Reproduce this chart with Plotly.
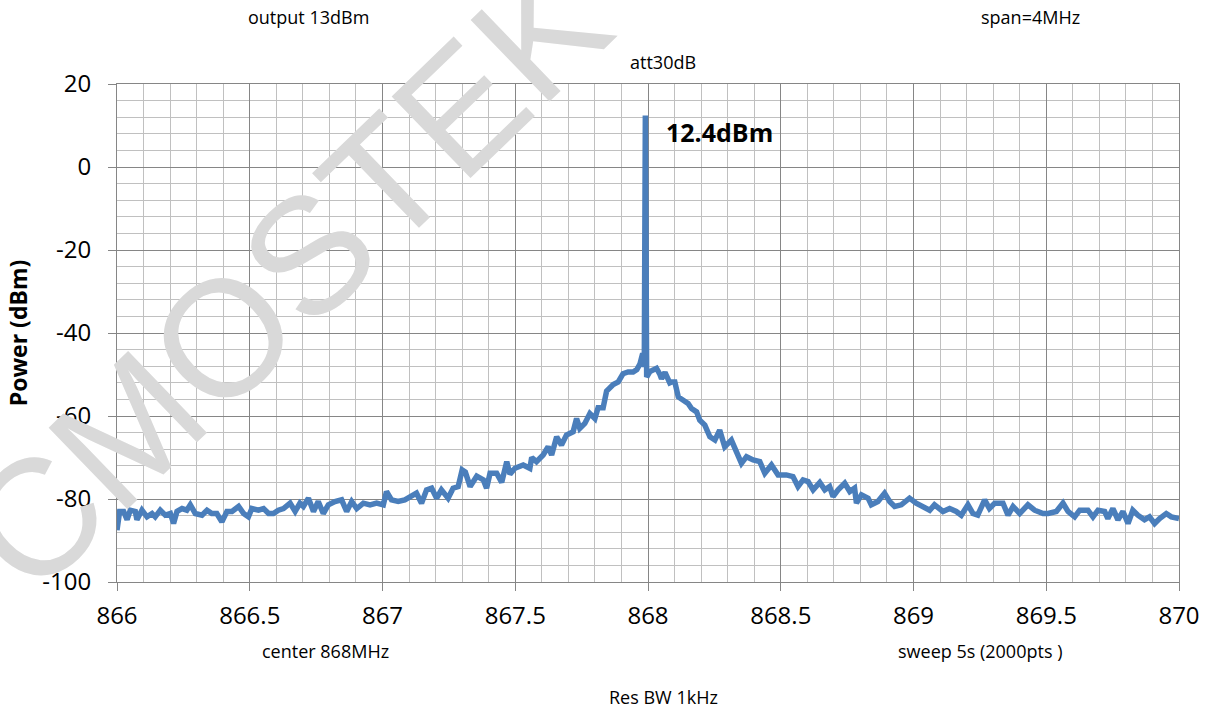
import plotly.graph_objects as go

# ---- data ----
freq_mhz = [
    866.000, 866.010, 866.025, 866.038, 866.050, 866.069, 866.075, 866.094, 866.113, 866.132,
    866.144, 866.163, 866.182, 866.201, 866.213, 866.226, 866.245, 866.263, 866.276, 866.295,
    866.320, 866.339, 866.357, 866.376, 866.395, 866.414, 866.433, 866.458, 866.477, 866.495,
    866.508, 866.533, 866.552, 866.571, 866.589, 866.608, 866.627, 866.640, 866.652, 866.671,
    866.689, 866.702, 866.721, 866.740, 866.758, 866.777, 866.796, 866.821, 866.846, 866.865,
    866.884, 866.903, 866.928, 866.953, 866.978, 867.003, 867.015, 867.034, 867.059, 867.084,
    867.110, 867.128, 867.147, 867.166, 867.185, 867.204, 867.222, 867.247, 867.266, 867.285,
    867.300, 867.312, 867.330, 867.355, 867.380, 867.392, 867.405, 867.430, 867.449, 867.468,
    867.480, 867.499, 867.530, 867.555, 867.562, 867.580, 867.605, 867.624, 867.637, 867.656,
    867.674, 867.693, 867.718, 867.731, 867.743, 867.762, 867.781, 867.800, 867.812, 867.831,
    867.844, 867.869, 867.888, 867.906, 867.925, 867.944, 867.958, 867.970, 867.980, 867.986,
    867.990, 867.995, 868.007, 868.020, 868.032, 868.045, 868.051, 868.064, 868.070, 868.082,
    868.089, 868.101, 868.114, 868.133, 868.151, 868.164, 868.183, 868.195, 868.214, 868.233,
    868.252, 868.270, 868.289, 868.314, 868.333, 868.352, 868.371, 868.396, 868.421, 868.440,
    868.465, 868.490, 868.521, 868.546, 868.565, 868.584, 868.603, 868.622, 868.647, 868.666,
    868.684, 868.697, 868.716, 868.741, 868.760, 868.778, 868.785, 868.804, 868.829, 868.841,
    868.866, 868.891, 868.910, 868.929, 868.954, 868.985, 869.010, 869.036, 869.061, 869.079,
    869.111, 869.136, 869.161, 869.180, 869.205, 869.224, 869.242, 869.268, 869.286, 869.306,
    869.337, 869.356, 869.375, 869.400, 869.431, 869.456, 869.488, 869.507, 869.538, 869.563,
    869.582, 869.607, 869.626, 869.657, 869.676, 869.695, 869.720, 869.732, 869.751, 869.770,
    869.789, 869.808, 869.826, 869.845, 869.870, 869.889, 869.908, 869.927, 869.952, 869.971,
    869.990, 870.000,
]
power_dbm = [
    -87.5, -83.0, -83.0, -85.0, -82.7, -83.0, -85.0, -82.7, -84.3, -83.5,
    -84.3, -82.7, -83.9, -83.5, -85.9, -83.0, -82.3, -82.7, -81.4, -83.5,
    -83.9, -82.7, -83.5, -83.5, -85.5, -83.0, -83.0, -81.8, -83.5, -84.3,
    -82.3, -82.7, -82.3, -83.5, -83.5, -82.7, -82.3, -81.5, -81.0, -83.0,
    -81.0, -81.8, -79.8, -83.0, -80.6, -83.5, -81.4, -80.6, -80.2, -83.0,
    -80.6, -82.3, -81.0, -81.4, -81.0, -81.4, -78.2, -80.2, -80.6, -80.2,
    -79.4, -78.6, -81.0, -77.8, -77.4, -79.8, -77.8, -79.8, -77.4, -77.0,
    -73.0, -73.5, -77.0, -74.5, -75.4, -77.4, -73.8, -73.8, -76.0, -71.0,
    -74.0, -72.6, -71.8, -72.6, -70.0, -71.0, -69.4, -67.4, -69.4, -65.0,
    -67.0, -64.6, -63.8, -60.6, -63.0, -61.8, -59.4, -60.6, -58.0, -58.0,
    -54.0, -52.4, -51.8, -49.8, -49.4, -49.4, -48.8, -47.4, -44.9, -48.2,
    12.4, -50.6, -49.3, -49.0, -48.5, -50.0, -51.0, -49.5, -50.6, -52.0,
    -51.8, -51.8, -55.4, -56.2, -57.0, -58.2, -59.0, -61.0, -62.2, -65.0,
    -65.8, -63.4, -67.4, -65.8, -69.0, -71.4, -69.8, -70.6, -71.0, -73.8,
    -71.8, -74.2, -74.2, -74.6, -77.0, -75.4, -75.8, -77.8, -76.0, -77.8,
    -77.0, -79.4, -77.8, -76.2, -78.2, -77.4, -81.0, -79.0, -79.8, -81.4,
    -80.6, -78.6, -80.6, -81.8, -81.4, -79.8, -81.0, -81.8, -82.7, -81.4,
    -83.0, -82.3, -83.0, -83.9, -81.4, -83.5, -83.9, -80.2, -82.3, -81.0,
    -81.0, -83.9, -81.8, -83.5, -81.4, -82.7, -83.5, -83.5, -83.0, -81.0,
    -83.0, -84.3, -82.7, -82.7, -84.3, -82.7, -83.0, -84.7, -82.3, -85.0,
    -83.0, -85.9, -82.7, -83.9, -85.0, -84.3, -85.9, -84.7, -83.5, -84.3,
    -84.7, -84.7,
]
x_tick_vals = [866, 866.5, 867, 867.5, 868, 868.5, 869, 869.5, 870]
x_tick_text = ["866", "866.5", "867", "867.5", "868", "868.5", "869", "869.5", "870"]
y_tick_vals = [-100, -80, -60, -40, -20, 0, 20]
y_tick_text = ["-100", "-80", "-60", "-40", "-20", "0", "20"]
peak_label = "12.4dBm"

W, H = 1211, 709
ML, MR, MT, MB = 117, 32, 84, 127
PW, PH = W - ML - MR, H - MT - MB
FONT = "Open Sans"


def px(xp):
    return (xp - ML) / PW


def py(yp):
    return (H - MB - yp) / PH


fig = go.Figure()
fig.add_trace(go.Scatter(
    x=freq_mhz, y=power_dbm, mode="lines",
    line=dict(color="#4A7EBB", width=5.5),
    showlegend=False, hoverinfo="x+y",
))

major = "#868686"
minor = "#C0C0C0"

fig.update_layout(
    width=W, height=H,
    margin=dict(l=ML, r=MR, t=MT, b=MB, pad=0),
    paper_bgcolor="white", plot_bgcolor="white",
    font=dict(family=FONT, color="black"),
    xaxis=dict(
        range=[866, 870], tickvals=x_tick_vals, ticktext=x_tick_text,
        showgrid=True, gridcolor=major, gridwidth=1,
        minor=dict(dtick=0.1, tick0=866, showgrid=True, gridcolor=minor, gridwidth=1, ticks=""),
        ticks="outside", ticklen=8, tickcolor=major, tickwidth=1,
        ticklabelstandoff=4,
        tickfont=dict(size=24, family=FONT, color="black"),
        showline=True, linecolor=major, linewidth=1, mirror=True,
        zeroline=False, fixedrange=True,
    ),
    yaxis=dict(
        range=[-100, 20], tickvals=y_tick_vals, ticktext=y_tick_text,
        showgrid=True, gridcolor=major, gridwidth=1,
        minor=dict(dtick=4, tick0=-100, showgrid=True, gridcolor=minor, gridwidth=1, ticks=""),
        ticks="outside", ticklen=8, tickcolor=major, tickwidth=1,
        ticklabelstandoff=12,
        tickfont=dict(size=24, family=FONT, color="black"),
        showline=True, linecolor=major, linewidth=1, mirror=True,
        zeroline=False, fixedrange=True,
        title=dict(text="<b>Power (dBm)</b>", font=dict(size=23, family=FONT, color="black"), standoff=8),
    ),
)

notes = [
    ("output 13dBm", 308, 17),
    ("span=4MHz", 1030, 17),
    ("att30dB", 663, 62),
    ("center 868MHz", 325, 651),
    ("sweep 5s (2000pts )", 980, 651),
    ("Res BW 1kHz", 663, 697),
]
for txt, xx, yy in notes:
    fig.add_annotation(text=txt, x=px(xx), y=py(yy), xref="paper", yref="paper",
                       showarrow=False, xanchor="center", yanchor="middle",
                       font=dict(size=18, family=FONT, color="black"))

fig.add_annotation(text="<b>" + peak_label + "</b>", x=868.27, y=8.4, xref="x", yref="y",
                   showarrow=False, xanchor="center", yanchor="middle",
                   font=dict(size=25, family=FONT, color="black"))

# watermark
fig.add_annotation(text="CMOSTEK", x=px(286), y=py(277), xref="paper", yref="paper",
                   showarrow=False, textangle=-44, xanchor="center", yanchor="middle",
                   font=dict(size=165, family="Liberation Sans", color="#D9D9D9"))

fig.write_html("out.html", config={"displayModeBar": False},
               post_script="document.body.style.margin='0';document.body.style.overflow='hidden';")
